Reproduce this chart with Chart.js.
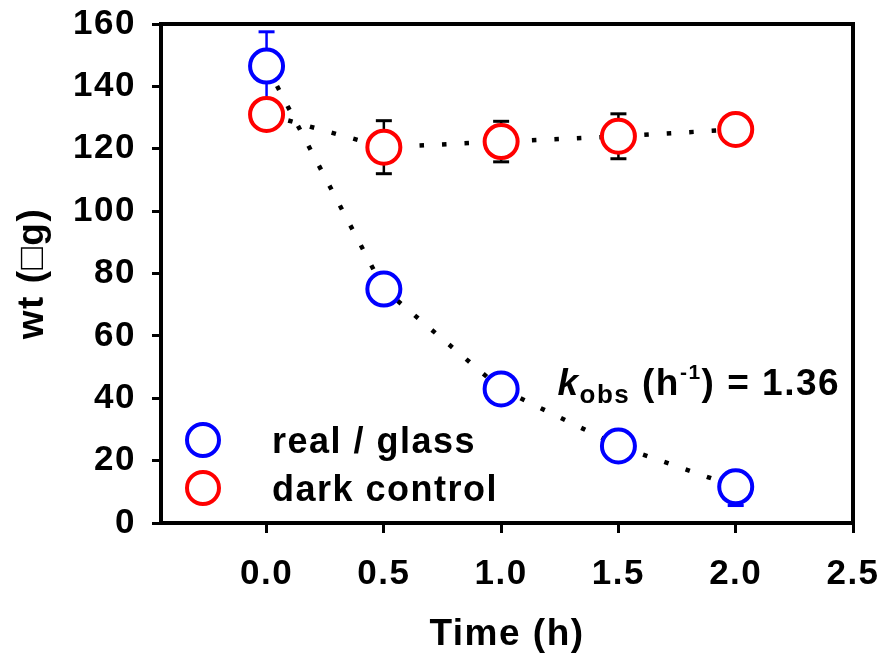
<!DOCTYPE html>
<html><head><meta charset="utf-8">
<script src="https://cdn.jsdelivr.net/npm/chart.js@4.4.0/dist/chart.umd.min.js"></script>
<style>html,body{margin:0;padding:0;background:#fff;overflow:hidden}</style>
</head><body>
<canvas id="c" width="886" height="659" style="width:886px;height:659px;display:block"></canvas>
<script>
// ---- data ----
const times = [0, 0.5, 1.0, 1.5, 2.0];
const realGlass = [146.5, 75, 43, 24.7, 11.6];
const realGlassErrPlus = [11, 0, 0, 0, 0];
const realGlassErrMinus = [11, 0, 0, 0, 6];
const darkControl = [131, 120.5, 122.3, 124, 126.2];
const darkControlErrPlus = [0, 8.5, 6.5, 7.2, 0];
const darkControlErrMinus = [0, 8.5, 6.5, 7.2, 0];
const xTickValues = [0, 0.5, 1.0, 1.5, 2.0, 2.5];
const seriesLabels = ['real / glass', 'dark control'];
const seriesColors = ['#0000ff', '#ff0000'];
const errColors = ['#0000ff', '#000000'];
const xTitle = 'Time (h)';
const yTitle = 'wt (\u25A1g)';
const kobsValue = '1.36';

const FONT = '"Liberation Sans", Arial, Helvetica, sans-serif';
const SPACING = '1.5px';

const toPts = (xs, ys) => xs.map((x, i) => ({x: x, y: ys[i]}));

const spacingPlugin = {
  id: 'spacing',
  beforeUpdate(chart) { chart.ctx.letterSpacing = SPACING; },
  beforeDraw(chart) { chart.ctx.letterSpacing = SPACING; }
};

const framePlugin = {
  id: 'frame',
  afterDraw(chart) {
    const {ctx, chartArea: a} = chart;
    ctx.save();
    ctx.strokeStyle = '#000';
    ctx.lineWidth = 4;
    ctx.lineCap = 'square';
    ctx.beginPath();
    ctx.moveTo(a.left, a.top); ctx.lineTo(a.right, a.top); ctx.lineTo(a.right, a.bottom);
    ctx.stroke();
    ctx.restore();
  }
};

const errPlugin = {
  id: 'errbars',
  beforeDatasetsDraw(chart) {
    const {ctx, scales: {x, y}} = chart;
    const sets = [[realGlass, realGlassErrPlus, realGlassErrMinus], [darkControl, darkControlErrPlus, darkControlErrMinus]];
    ctx.save();
    sets.forEach(([vals, ep, em], s) => {
      ctx.strokeStyle = errColors[s];
      times.forEach((t, i) => {
        const px = x.getPixelForValue(t);
        const yc = y.getPixelForValue(vals[i]);
        [[ep[i], 1], [em[i], -1]].forEach(([e, sgn]) => {
          if (!e) return;
          const ye = y.getPixelForValue(vals[i] + sgn * e);
          ctx.lineWidth = 2.5;
          ctx.beginPath(); ctx.moveTo(px, yc); ctx.lineTo(px, ye); ctx.stroke();
          ctx.lineWidth = 3;
          ctx.beginPath(); ctx.moveTo(px - 8, ye); ctx.lineTo(px + 8, ye); ctx.stroke();
        });
      });
    });
    ctx.restore();
  }
};

const legendPlugin = {
  id: 'innerLegend',
  afterDraw(chart) {
    const {ctx, chartArea: a} = chart;
    ctx.save();
    ctx.letterSpacing = SPACING;
    seriesLabels.forEach((lab, i) => {
      const cy = a.bottom - 83 + i * 48;
      const cx = a.left + 42;
      ctx.beginPath();
      ctx.arc(cx, cy, 16, 0, Math.PI * 2);
      ctx.fillStyle = '#fff'; ctx.fill();
      ctx.lineWidth = 4; ctx.strokeStyle = seriesColors[i]; ctx.stroke();
      ctx.fillStyle = '#000';
      ctx.font = 'bold 36px ' + FONT;
      ctx.textBaseline = 'middle';
      ctx.textAlign = 'left';
      ctx.fillText(lab, a.left + 111, cy + 3);
    });
    ctx.restore();
  }
};

const kobsPlugin = {
  id: 'kobs',
  afterDraw(chart) {
    const {ctx, scales: {x, y}} = chart;
    ctx.save();
    ctx.letterSpacing = SPACING;
    ctx.fillStyle = '#000';
    ctx.textBaseline = 'alphabetic';
    ctx.textAlign = 'left';
    let px = x.getPixelForValue(1.24);
    const base = y.getPixelForValue(41);
    const part = (txt, font, dy) => {
      ctx.font = font;
      ctx.fillText(txt, px, base + dy);
      px += ctx.measureText(txt).width;
    };
    part('k', 'italic bold 37px ' + FONT, 0);
    part('obs', 'bold 26px ' + FONT, 8);
    part(' (h', 'bold 37px ' + FONT, 0);
    part('-1', 'bold 21px ' + FONT, -16);
    part(') = ' + kobsValue, 'bold 37px ' + FONT, 0);
    ctx.restore();
  }
};

new Chart(document.getElementById('c'), {
  type: 'scatter',
  data: {
    datasets: [
      {
        label: seriesLabels[0],
        data: toPts(times, realGlass),
        showLine: true,
        borderColor: '#000',
        borderWidth: 4.5,
        borderDash: [4.5, 18],
        pointRadius: 16.5,
        pointBorderWidth: 4,
        pointBorderColor: seriesColors[0],
        pointBackgroundColor: '#fff',
        order: 1
      },
      {
        label: seriesLabels[1],
        data: toPts(times, darkControl),
        showLine: true,
        borderColor: '#000',
        borderWidth: 4.5,
        borderDash: [4.5, 18],
        pointRadius: 16.5,
        pointBorderWidth: 4,
        pointBorderColor: seriesColors[1],
        pointBackgroundColor: '#fff',
        order: 0
      }
    ]
  },
  options: {
    responsive: false,
    animation: false,
    devicePixelRatio: 1,
    layout: {padding: {top: 24, right: 33, left: 0, bottom: 0}},
    plugins: {legend: {display: false}, tooltip: {enabled: false}},
    scales: {
      x: {
        type: 'linear',
        min: -0.45,
        max: 2.5,
        afterBuildTicks: (axis) => { axis.ticks = xTickValues.map(v => ({value: v})); },
        afterFit: (s) => { s.height = 136; s.paddingLeft = 0; s.paddingRight = 0; },
        ticks: {
          color: '#000',
          font: {family: FONT, size: 35, weight: 'bold'},
          padding: 20,
          maxRotation: 0,
          callback: (v) => Number(v).toFixed(1)
        },
        grid: {drawOnChartArea: false, drawTicks: true, tickLength: 10, tickWidth: 3, tickColor: '#000'},
        border: {display: true, width: 4, color: '#000'},
        title: {display: true, text: xTitle, color: '#000', font: {family: FONT, size: 37, weight: 'bold'}, padding: {top: 0, bottom: 2}}
      },
      y: {
        type: 'linear',
        min: 0,
        max: 160,
        afterFit: (s) => { s.width = 161; s.paddingTop = 0; s.paddingBottom = 0; },
        ticks: {
          color: '#000',
          stepSize: 20,
          font: {family: FONT, size: 35, weight: 'bold'},
          padding: 16
        },
        grid: {drawOnChartArea: false, drawTicks: true, tickLength: 9, tickWidth: 3, tickColor: '#000'},
        border: {display: true, width: 4, color: '#000'},
        title: {display: true, text: yTitle, color: '#000', font: {family: FONT, size: 37, weight: 'bold'}, padding: {top: 11, bottom: 0}}
      }
    }
  },
  plugins: [spacingPlugin, errPlugin, framePlugin, legendPlugin, kobsPlugin]
});
</script>
</body></html>
